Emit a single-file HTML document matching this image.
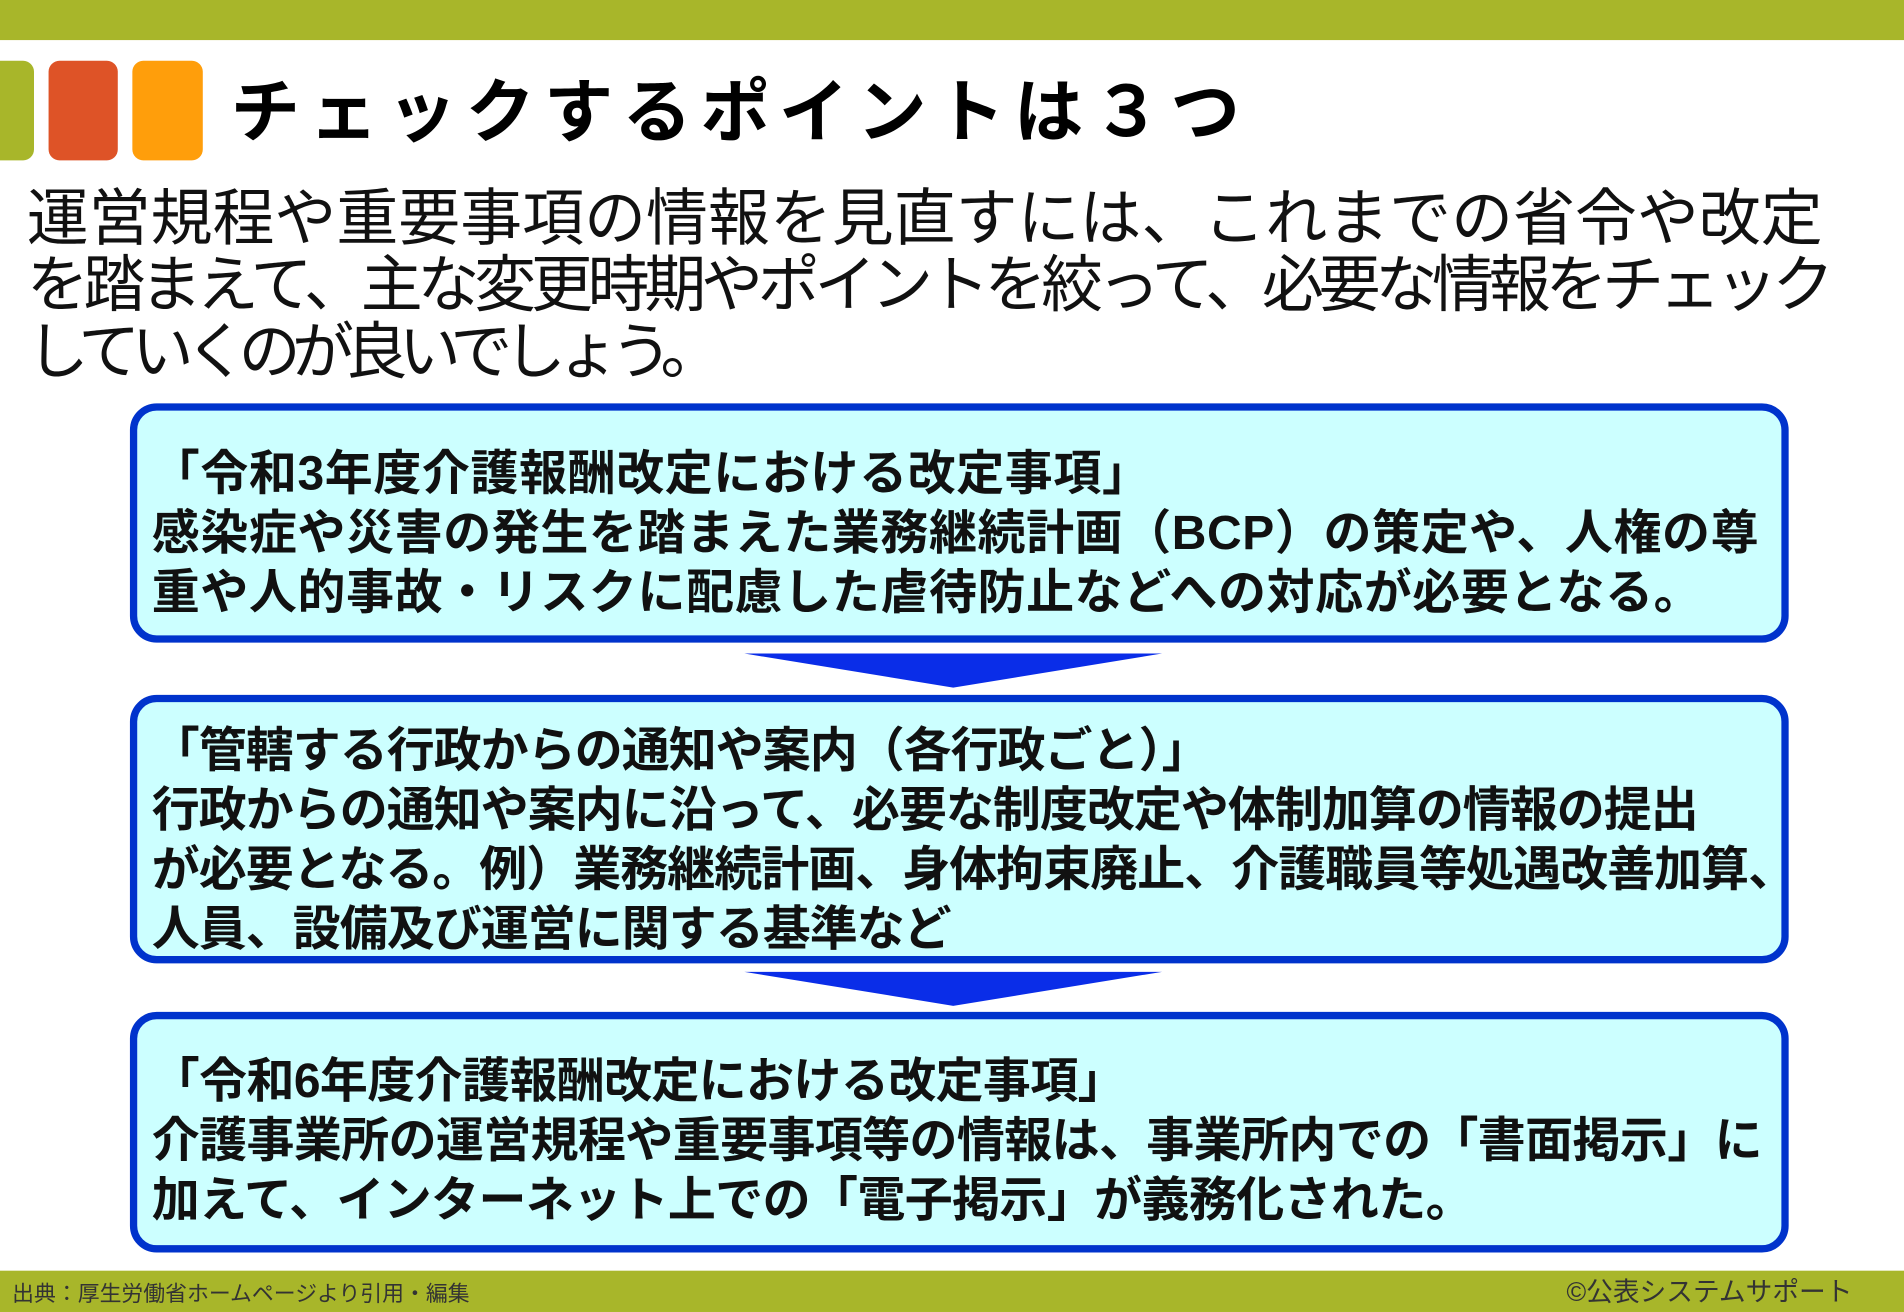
<!DOCTYPE html>
<html><head><meta charset="utf-8">
<style>
html,body{margin:0;padding:0;background:#fff;overflow:hidden}
#s{position:absolute;left:0;top:0;width:1568px;height:1080px;transform:scale(1.2143,1.2148);transform-origin:0 0;font-family:"Liberation Sans","Noto Sans CJK JP",sans-serif}
.a{position:absolute}
.bar{background:#a8b62a;left:0;width:1568px}
.sq{top:50px;height:82px;border-radius:9px}
.box{left:107px;width:1366px;border:6px solid #0033cc;border-radius:22px;background:#ccffff;box-sizing:border-box}
.bt{position:absolute;left:12px;top:28px;font-size:39.5px;font-weight:bold;line-height:49px;white-space:nowrap;color:#111}
.p{position:absolute;left:22px;font-size:51px;line-height:55px;white-space:nowrap;color:#111}
</style></head><body>
<div id="s">
<div class="a bar" style="top:0;height:33px"></div>
<div class="a sq" style="left:-10px;width:38px;background:#a8b62a"></div>
<div class="a sq" style="left:40px;width:57px;background:#de5327"></div>
<div class="a sq" style="left:109px;width:58px;background:#ff9e0b"></div>
<div class="a" style="left:190px;top:58px;font-size:57px;font-weight:bold;letter-spacing:7.5px;line-height:70px;white-space:nowrap">チェックするポイントは３つ</div>
<div class="p" style="top:152px">運営規程や重要事項の情報を見直すには、これまでの省令や改定</div>
<div class="p" style="top:207px;letter-spacing:-4.3px">を踏まえて、主な変更時期やポイントを絞って、必要な情報をチェック</div>
<div class="p" style="top:262px;letter-spacing:-7px">していくのが良いでしょう。</div>

<div class="a box" style="top:332px;height:197px"><div class="bt" style="letter-spacing:0.5px">「令和3年度介護報酬改定における改定事項」<br>感染症や災害の発生を踏まえた業務継続計画（BCP）の策定や、人権の尊<br>重や人的事故・リスクに配慮した虐待防止などへの対応が必要となる。</div></div>
<svg class="a" style="left:0;top:0" width="1568" height="1080"><polygon points="613,538 957,538 785,566" fill="#0a2de8"/><polygon points="613,800 957,800 785,828" fill="#0a2de8"/></svg>
<div class="a box" style="top:572px;height:221px"><div class="bt" style="top:16px;letter-spacing:-0.8px">「管轄する行政からの通知や案内（各行政ごと）」<br>行政からの通知や案内に沿って、必要な制度改定や体制加算の情報の提出<br>が必要となる。例）業務継続計画、身体拘束廃止、介護職員等処遇改善加算、<br>人員、設備及び運営に関する基準など</div></div>
<div class="a box" style="top:833px;height:198px"><div class="bt" style="top:27px;letter-spacing:-0.5px">「令和6年度介護報酬改定における改定事項」<br>介護事業所の運営規程や重要事項等の情報は、事業所内での「書面掲示」に<br>加えて、インターネット上での「電子掲示」が義務化された。</div></div>

<div class="a bar" style="top:1046px;height:34px"></div>
<div class="a" style="left:10px;top:1054px;font-size:18px;line-height:22px;color:#333;white-space:nowrap">出典：厚生労働省ホームページより引用・編集</div>
<div class="a" style="left:1290px;top:1050px;font-size:22px;line-height:28px;color:#333;white-space:nowrap">©公表システムサポート</div>
</div>
</body></html>
